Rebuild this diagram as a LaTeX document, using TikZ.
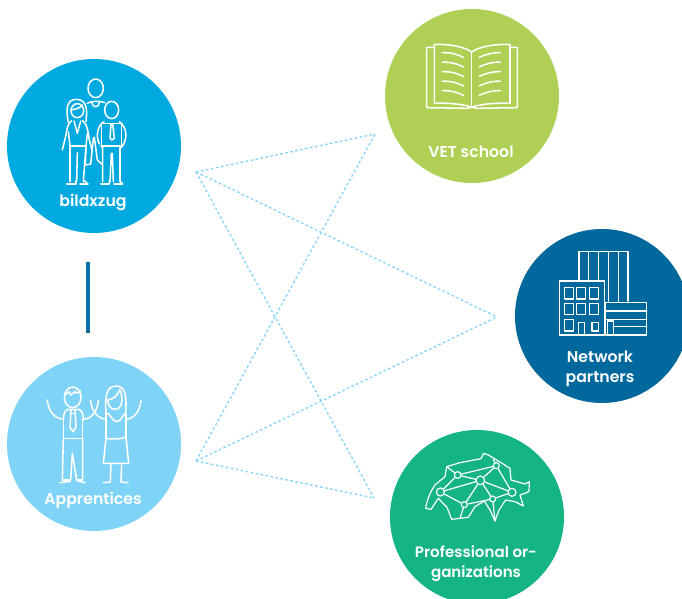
\documentclass[tikz,border=0pt]{standalone}
\usepackage{fontspec}
\setmainfont{Poppins}[BoldFont={Poppins SemiBold}]
\definecolor{cblue}{HTML}{00A9E0}
\definecolor{clight}{HTML}{7FD3F7}
\definecolor{cgreen}{HTML}{AFCF55}
\definecolor{cdark}{HTML}{00689D}
\definecolor{cteal}{HTML}{14B485}
\definecolor{cbar}{HTML}{0F6FA6}
\definecolor{cdot}{HTML}{8AD6F7}
\tikzset{
  disc/.style={circle,minimum size=130.5pt,inner sep=0pt,draw=none},
  lab/.style={text=white,font=\fontsize{11.8}{15.2}\selectfont\bfseries,align=center,inner sep=0pt},
  link/.style={draw=cdot,line width=1.05pt,dash pattern=on 2pt off 1.8pt},
  bar/.style={draw=cbar,line width=2.5pt},
  icon/.style={x=0.25pt,y=-0.25pt,draw=white,line width=1.15pt,line join=round,line cap=round},
  thin icon/.style={line width=0.9pt},
  hub/.style={circle,draw=white,line width=0.9pt,inner sep=0pt}
}
\begin{document}
\begin{tikzpicture}[x=0.75pt,y=-0.75pt]
\useasboundingbox (0,0) rectangle (682,599);
\clip (0,0) rectangle (682,599);
\coordinate (hubtop) at (196,172);
\coordinate (hubbot) at (196,461);
\coordinate (endvet) at (375,134);
\coordinate (endnet) at (497,317);
\coordinate (endpro) at (374,498);
\coordinate (bartop) at (88,262);
\coordinate (barbot) at (88,333);
\node[disc,fill=cblue] (bild) at (94,146) {};
\node[disc,fill=clight] (app) at (94,444) {};
\node[disc,fill=cgreen] (vet) at (472,96) {};
\node[disc,fill=cdark] (net) at (602,316) {};
\node[disc,fill=cteal] (pro) at (477,517) {};
\draw[bar] (bartop) -- (barbot);
\foreach \a in {hubtop,hubbot}\foreach \b in {endvet,endnet,endpro}{\draw[link] (\a) -- (\b);}
% labels
\node[lab] (lbild) at (93,202) {bildxzug};
\node[lab] (lapp) at (93,500) {Apprentices};
\node[lab] (lvet) at (471,152) {VET school};
\node[lab] (lnet) at (600,369) {Network\\partners};
\node[lab,font=\fontsize{11.3}{15.2}\selectfont\bfseries] (lpro) at (476,564) {Professional or-\\ganizations};
% family icon
\begin{scope}[shift={(0,60)},icon]
\draw (287,85) ellipse (23 and 28);
\draw (262,130) .. controls (275,122) and (300,122) .. (315,128);
\draw (275,126) .. controls (277,145) and (297,145) .. (299,126);
\draw (258,185) .. controls (262,150) and (262,120) .. (230,118) .. controls (198,118) and (198,150) .. (205,187);
\draw (232,152) ellipse (19 and 21);
\draw (212,150) .. controls (225,148) and (240,145) .. (248,135);
\draw (215,182) .. controls (205,190) and (200,205) .. (198,225) -- (187,270);
\draw (248,182) .. controls (260,190) and (265,215) .. (268,240) -- (276,270);
\draw (222,183) -- (232,220) -- (242,183);
\draw (205,215) -- (210,258) -- (258,258) -- (262,220);
\draw (210,258) -- (210,365) (258,258) -- (250,365) (232,278) -- (230,365);
\draw (200,372) -- (228,372) -- (228,362) (240,372) -- (264,372) -- (252,362);
\draw (335,150) ellipse (21 and 26);
\draw (312,185) .. controls (295,195) and (285,225) .. (298,252) (358,185) .. controls (380,200) and (385,235) .. (365,262);
\draw (305,190) -- (365,190);
\draw (304,190) -- (304,262) (364,190) -- (364,262);
\draw (303,258) -- (365,258);
\draw (333,192) -- (330,235) -- (336,240) -- (343,235) -- (338,192);
\draw (308,258) -- (308,365) (360,258) -- (360,365) (334,280) -- (330,365) (337,280) -- (340,365);
\draw (303,372) -- (328,372) -- (328,362) (342,372) -- (368,372) -- (358,362);
\draw (258,258) -- (256,315) -- (272,312) -- (280,235) -- (283,232) -- (292,300) -- (308,315);
\end{scope}
% apprentices icon
\begin{scope}[shift={(0,350)},icon]
\draw (218,142) ellipse (25 and 31);
\draw (195,135) -- (207,125) -- (212,135) -- (225,125) -- (230,130) -- (241,122);
\draw (142,150) .. controls (145,180) and (160,205) .. (190,208);
\draw (295,152) .. controls (292,180) and (280,205) .. (250,208);
\draw (272,152) .. controls (275,180) and (290,205) .. (318,208);
\draw (423,152) .. controls (420,180) and (405,205) .. (380,208);
\draw (190,210) .. controls (190,190) and (195,180) .. (205,178) -- (235,178) .. controls (245,180) and (250,190) .. (250,210);
\draw (190,208) -- (190,265) -- (248,265) -- (248,208);
\draw (213,180) -- (210,232) -- (219,245) -- (228,232) -- (225,180);
\draw (213,190) -- (225,190);
\draw (190,265) -- (187,390) -- (212,390) -- (217,310) -- (230,390) -- (248,390) -- (248,265);
\draw (180,398) -- (212,394) (232,392) -- (255,398);
\draw (318,190) .. controls (315,140) and (318,108) .. (348,108) .. controls (378,108) and (380,140) .. (377,190);
\draw (322,150) .. controls (335,150) and (352,140) .. (360,118) .. controls (372,150) and (365,178) .. (345,178) .. controls (330,178) and (325,165) .. (322,150);
\draw (318,190) .. controls (330,185) and (335,215) .. (350,215) .. controls (365,215) and (368,190) .. (378,190);
\draw (318,190) -- (318,265) .. controls (335,268) and (360,268) .. (378,262) -- (378,190);
\draw (318,265) -- (310,340) -- (386,340) -- (378,262);
\draw (333,342) -- (331,395) (365,342) -- (363,395);
\draw (310,398) -- (331,396) (363,396) -- (384,398);
\end{scope}
% book icon
\begin{scope}[shift={(380,0)},icon]
\draw (163,142) -- (140,142) -- (140,323) -- (265,325) -- (275,320) -- (288,325) -- (412,323) -- (412,142) -- (390,142);
\draw (275,156) .. controls (250,138) and (200,132) .. (163,133) -- (163,310) .. controls (200,308) and (250,312) .. (275,322);
\draw (275,156) .. controls (300,138) and (350,132) .. (390,133) -- (390,310) .. controls (350,308) and (300,312) .. (275,322);
\draw (275,156) -- (275,322);
\foreach \y in {0,28.5,57,85.5,114}{
\draw (187,158+\y) .. controls (210,157+\y) and (230,162+\y) .. (250,172+\y);
\draw (361,158+\y) .. controls (340,157+\y) and (320,162+\y) .. (298,172+\y);
}
\end{scope}
% buildings icon
\begin{scope}[shift={(510,225)},icon]
\draw (207,168) -- (207,80) -- (354,80) -- (354,228) (235,80) -- (235,168) (265,80) -- (265,168) (295,80) -- (295,228) (325,80) -- (325,228);
\draw (148,168) rectangle (283,330);
\foreach \x in {163,200,238}{\foreach \y in {188,235}{\draw (\x,\y) rectangle (\x+27,\y+34);}}
\draw (163,284) rectangle (190,318);
\draw (206,328) -- (206,292) -- (224,292) -- (224,328);
\draw (246,292) rectangle (266,318);
\draw (287,233) rectangle (410,330);
\draw (287,258) -- (410,258) (287,283) -- (410,283) (310,305) -- (410,305);
\draw (292,328) -- (292,288) -- (310,288) -- (310,328);
\end{scope}
% map icon
\begin{scope}[shift={(385,420)},icon,thin icon]
\draw (122,265) .. controls (125,245) and (135,215) .. (150,195) -- (180,170) -- (185,140) -- (225,128) -- (288,116) -- (296,100) -- (310,105) -- (335,120) -- (375,145) -- (378,180) -- (420,192) -- (433,185) -- (432,215) -- (405,225) -- (415,258) -- (390,245) -- (362,240) -- (342,270) -- (330,303) -- (315,270) -- (298,243) -- (270,260) -- (250,292) -- (200,298) -- (186,262) -- (160,235) -- (138,268) -- cycle;
\node[hub,minimum size=5pt] (m1) at (218,165) {};
\node[hub,minimum size=4.5pt] (m2) at (334,137) {};
\node[hub,minimum size=6.5pt] (m3) at (286,181) {};
\node[hub,minimum size=6pt] (m4) at (166,216) {};
\node[hub,minimum size=6pt] (m5) at (381,217) {};
\node[hub,minimum size=4.5pt] (m6) at (323,237) {};
\node[hub,minimum size=4.5pt] (m7) at (238,254) {};
\draw (m1) -- (m2); \draw (m1) -- (m3); \draw (m1) -- (m4); \draw (m2) -- (m3); \draw (m2) -- (m5);
\draw (m3) -- (m4); \draw (m3) -- (m5); \draw (m3) -- (m6); \draw (m3) -- (m7); \draw (m4) -- (m7);
\draw (m5) -- (m6); \draw (m6) -- (m7); \draw (m7) -- (225,295); \draw (m6) -- (330,303);
\draw (m1) -- (185,140); \draw (m2) -- (325,118);
\end{scope}
\end{tikzpicture}
\end{document}
